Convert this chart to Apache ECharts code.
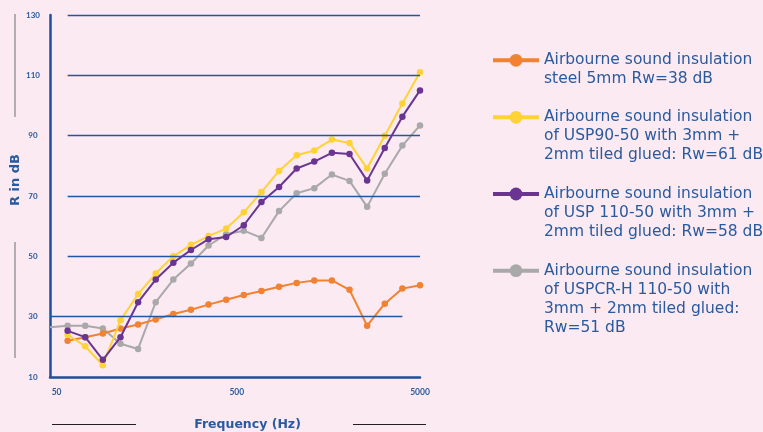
<!DOCTYPE html>
<html>
<head>
<meta charset="utf-8">
<script src="https://cdn.jsdelivr.net/npm/echarts@6/dist/echarts.min.js"></script>
<style>
  html, body { margin: 0; padding: 0; background: #fbeaf2; }
  #main { width: 763px; height: 432px; }
</style>
</head>
<body>
<div id="main"></div>
<script>
// third-octave bands (Hz), 40 Hz only carries the start of the grey curve
const freqs = ['40', '50', '63', '80', '100', '125', '160', '200', '250', '315', '400',
  '500', '630', '800', '1000', '1250', '1600', '2000', '2500', '3150', '4000', '5000'];
const freqLabels = ['50', '500', '5000'];
const yTicks = [10, 30, 50, 70, 90, 110, 130];

// R in dB
const steel5mm = [null, 22.0, 23.2, 24.4, 26.1, 27.4, 29.1, 30.9, 32.3, 34.0, 35.6,
  37.2, 38.5, 39.9, 41.2, 42.0, 42.0, 38.9, 27.0, 34.3, 39.3, 40.4];
const usp90 = [null, 24.0, 20.2, 13.9, 28.8, 37.5, 44.3, 50.0, 53.8, 56.7, 59.2,
  64.6, 71.3, 78.3, 83.5, 85.1, 88.7, 87.6, 79.1, 90.0, 100.7, 111.0];
const usp110 = [null, 25.3, 23.2, 15.7, 23.2, 34.8, 42.3, 47.9, 52.1, 55.7, 56.4,
  60.3, 68.0, 73.0, 79.1, 81.4, 84.3, 83.9, 75.1, 85.9, 96.3, 105.0];
const uspcr = [26.5, 27.0, 27.0, 26.1, 21.0, 19.3, 34.8, 42.3, 47.6, 53.6, 57.3,
  58.5, 56.1, 65.0, 70.9, 72.6, 77.1, 75.0, 66.4, 77.4, 86.7, 93.4];

const names = [
  'Airbourne sound insulation\nsteel 5mm Rw=38 dB',
  'Airbourne sound insulation\nof USP90-50 with 3mm +\n2mm tiled glued: Rw=61 dB',
  'Airbourne sound insulation\nof USP 110-50 with 3mm +\n2mm tiled glued: Rw=58 dB',
  'Airbourne sound insulation\nof USPCR-H 110-50 with\n3mm + 2mm tiled glued:\nRw=51 dB'
];
const colors = ['#f08232', '#ffd236', '#6a3592', '#a9a9a9'];

const blue = '#2a5a9e';
const lineBlue = '#1f4f9c';
const font = 'Lato, "Noto Sans", sans-serif';
const wideFont = '"DejaVu Sans", sans-serif';

const chart = echarts.init(document.getElementById('main'));

// legend: one block per series, icon level with the first text line
// (blank lines in front push the first real line onto the icon)
const lh = 19;
const legendTops = [31.8, 69.8, 146.5, 204.2];
const legends = names.map((n, i) => {
  const lines = n.split('\n').length;
  return {
    orient: 'vertical',
    left: 491,
    top: legendTops[i],
    padding: 0,
    itemWidth: 46,
    itemHeight: 16,
    lineStyle: { width: 4 },
    textStyle: { fontFamily: wideFont, fontSize: 15.5, lineHeight: lh, color: blue },
    formatter: name => '\n'.repeat(lines - 1) + name,
    data: [n]
  };
});

// grid lines: all from 50 Hz to 5000 Hz except the 30 dB one
const gridLines = yTicks.filter(v => v > 10).map(v =>
  v === 30
    ? [{ coord: ['40', v] }, { coord: ['4000', v] }]
    : [{ coord: ['50', v] }, { coord: ['5000', v] }]
);

const mkSeries = (name, vals, color, z) => ({
  name: name,
  type: 'line',
  z: z,
  data: vals.map((v, i) => (i === 0 && v != null) ? { value: v, symbol: 'none' } : v),
  symbol: 'circle',
  symbolSize: 6.5,
  showSymbol: true,
  lineStyle: { width: 2, color: color },
  itemStyle: { color: color }
});

const option = {
  backgroundColor: '#fbeaf2',
  animation: false,
  textStyle: { fontFamily: font },
  grid: { left: 50, right: 343, top: 15, bottom: 55, outerBoundsMode: 'none', containLabel: false },
  legend: legends,
  xAxis: {
    type: 'category',
    data: freqs,
    boundaryGap: false,
    name: 'Frequency (Hz)',
    nameLocation: 'middle',
    nameGap: 41,
    nameTextStyle: { fontFamily: wideFont, fontSize: 12.5, fontWeight: 'bold', color: blue, padding: [0, 0, 0, 25] },
    axisLine: { lineStyle: { color: lineBlue, width: 2.5 } },
    axisTick: { show: false },
    splitLine: { show: false },
    axisLabel: {
      interval: (idx, val) => freqLabels.includes(val),
      margin: 11,
      fontSize: 8.5,
      fontWeight: 'bold',
      color: blue,
      formatter: val => val === '50' ? '{a|50}' : val === '500' ? '{b|500}' : val,
      rich: {
        a: { padding: [0, 22, 0, 0] },
        b: { padding: [0, 14, 0, 0] }
      }
    }
  },
  yAxis: {
    type: 'value',
    min: 10,
    max: 130,
    interval: 20,
    name: 'R in dB',
    nameLocation: 'middle',
    nameRotate: 90,
    nameGap: 25,
    nameTextStyle: { fontFamily: wideFont, fontSize: 13, fontWeight: 'bold', color: blue, padding: [0, 0, 0, 32] },
    axisLine: { show: true, lineStyle: { color: lineBlue, width: 2.5 } },
    axisTick: { show: false },
    splitLine: { show: false },
    axisLabel: { align: 'center', margin: 17, fontSize: 8, fontWeight: 'bold', color: blue }
  },
  series: [
    {
      name: 'grid',
      type: 'line',
      z: 1,
      data: [],
      silent: true,
      markLine: {
        silent: true,
        symbol: 'none',
        label: { show: false },
        lineStyle: { color: '#2456a0', width: 1.3, type: 'solid' },
        data: gridLines
      }
    },
    mkSeries(names[3], uspcr, colors[3], 2),
    mkSeries(names[0], steel5mm, colors[0], 3),
    mkSeries(names[1], usp90, colors[1], 4),
    mkSeries(names[2], usp110, colors[2], 5)
  ],
  graphic: [
    { type: 'line', shape: { x1: 15, y1: 14, x2: 15, y2: 117 }, style: { stroke: '#8e8a8c', lineWidth: 1.3 } },
    { type: 'line', shape: { x1: 15, y1: 242, x2: 15, y2: 358 }, style: { stroke: '#8e8a8c', lineWidth: 1.3 } },
    { type: 'line', shape: { x1: 52, y1: 424.5, x2: 136, y2: 424.5 }, style: { stroke: '#231f20', lineWidth: 1 } },
    { type: 'line', shape: { x1: 353, y1: 424.5, x2: 426, y2: 424.5 }, style: { stroke: '#231f20', lineWidth: 1 } }
  ]
};

chart.setOption(option);
window.onresize = () => chart.resize();
</script>
</body>
</html>
